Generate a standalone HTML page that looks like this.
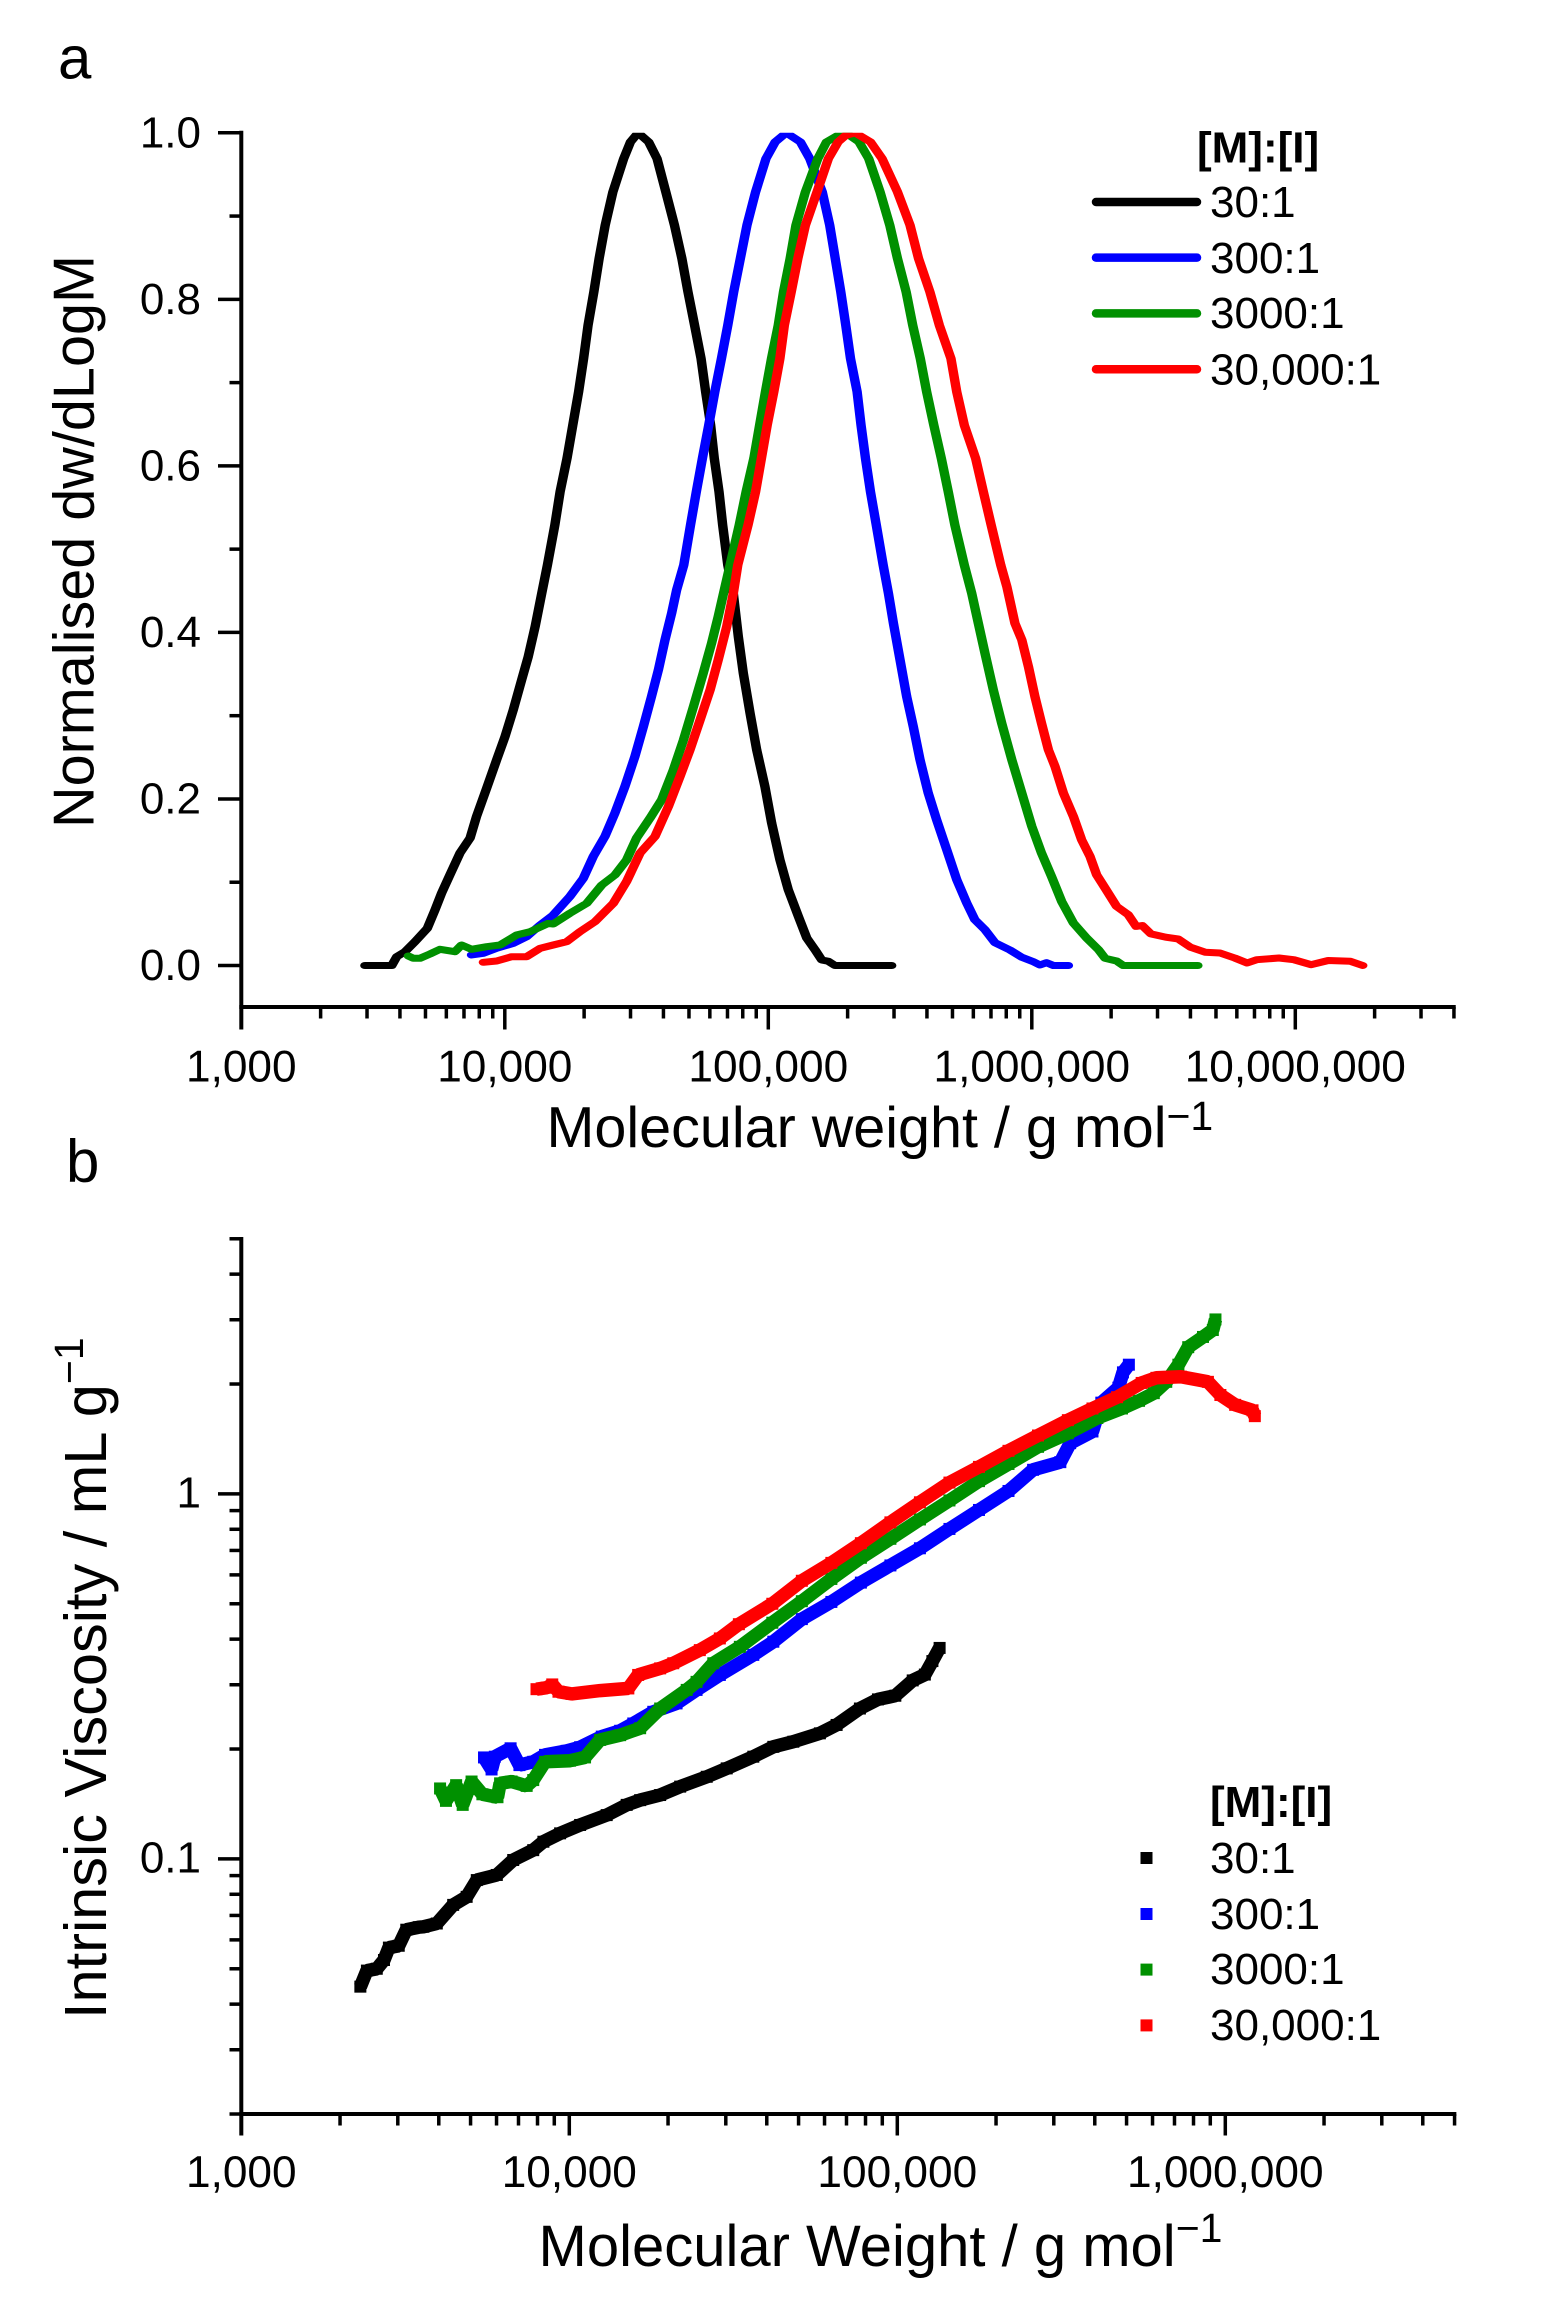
<!DOCTYPE html>
<html lang="en">
<head>
<meta charset="utf-8">
<title>Molecular weight distributions and intrinsic viscosity</title>
<style>
html,body{margin:0;padding:0;background:#fff}
svg{display:block}
text{font-family:"Liberation Sans",Arial,sans-serif;fill:#000}
</style>
</head>
<body>
<svg id="fig" xmlns="http://www.w3.org/2000/svg" width="1544" height="2320" viewBox="0 0 1544 2320">
  <defs>
    <clipPath id="clipA"><rect x="241" y="132.8" width="1215" height="875"/></clipPath>
  </defs>
  <rect width="1544" height="2320" fill="#fff"/>

  <text x="58" y="78.5" font-size="60">a</text>
  <text x="66" y="1181.5" font-size="60">b</text>

  <g id="panelA"></g>
  <g id="panelB"></g>

  <text transform="translate(93.5 828) rotate(-90)" font-size="57.6">Normalised dw/dLogM</text>
  <text x="546.5" y="1147" font-size="57.5">Molecular weight / g mol<tspan font-size="41" dy="-17">−1</tspan></text>
  <text transform="translate(105.9 2019) rotate(-90)" font-size="59.5">Intrinsic Viscosity / mL g<tspan font-size="41" dy="-23">−1</tspan></text>
  <text x="538.5" y="2266" font-size="58">Molecular Weight / g mol<tspan font-size="41" dy="-24">−1</tspan></text>

  <g>
    <text x="1197" y="162.5" font-size="44" font-weight="bold">[M]:[I]</text>
    <text x="1210" y="217" font-size="44">30:1</text>
    <text x="1210" y="273" font-size="44">300:1</text>
    <text x="1210" y="328" font-size="44">3000:1</text>
    <text x="1210" y="384.5" font-size="44">30,000:1</text>
    <line x1="1096" x2="1197" y1="202" y2="202" stroke="#000" stroke-width="8.5" stroke-linecap="round"/>
    <line x1="1096" x2="1197" y1="257.6" y2="257.6" stroke="#0000ff" stroke-width="8.5" stroke-linecap="round"/>
    <line x1="1096" x2="1197" y1="313.4" y2="313.4" stroke="#009000" stroke-width="8.5" stroke-linecap="round"/>
    <line x1="1096" x2="1197" y1="369.3" y2="369.3" stroke="#ff0000" stroke-width="8.5" stroke-linecap="round"/>
  </g>

  <g>
    <text x="1210" y="1817" font-size="44" font-weight="bold">[M]:[I]</text>
    <text x="1210" y="1873" font-size="44">30:1</text>
    <text x="1210" y="1929" font-size="44">300:1</text>
    <text x="1210" y="1984" font-size="44">3000:1</text>
    <text x="1210" y="2040" font-size="44">30,000:1</text>
    <rect x="1140.5" y="1852" width="12" height="12" fill="#000"/>
    <rect x="1140.5" y="1908" width="12" height="12" fill="#0000ff"/>
    <rect x="1140.5" y="1963.6" width="12" height="12" fill="#009000"/>
    <rect x="1140.5" y="2019.4" width="12" height="12" fill="#ff0000"/>
  </g>
</svg>

<script>
// ---- Panel a: log10(molecular weight) and normalised dw/dLogM ----
const aBlackLogM = [3.469,3.571,3.590,3.621,3.659,3.706,3.735,3.760,3.792,3.830,3.868,3.893,3.931,3.969,4.001,4.032,4.064,4.089,4.115,4.140,4.162,4.190,4.210,4.236,4.258,4.280,4.299,4.316,4.338,4.358,4.381,4.410,4.451,4.477,4.506,4.546,4.578,4.611,4.644,4.672,4.695,4.720,4.745,4.762,4.781,4.795,4.813,4.827,4.846,4.867,4.886,4.905,4.931,4.956,4.987,5.013,5.044,5.076,5.114,5.146,5.177,5.203,5.228,5.253,5.468];
const aBlackVal = [0,0,.0106,.0166,.0286,.0446,.0666,.087,.109,.135,.153,.179,.213,.247,.275,.307,.343,.371,.407,.447,.481,.529,.569,.609,.649,.689,.729,.769,.809,.849,.889,.929,.969,.989,1.0,.989,.969,.929,.889,.849,.809,.769,.729,.689,.649,.609,.569,.529,.481,.447,.395,.351,.303,.259,.215,.171,.127,.091,.059,.033,.019,.0066,.005,0,0];

const aBlueLogM = [3.874,3.919,3.969,4.032,4.083,4.134,4.184,4.247,4.298,4.336,4.380,4.418,4.456,4.494,4.526,4.557,4.583,4.608,4.633,4.652,4.679,4.705,4.727,4.750,4.774,4.797,4.822,4.846,4.869,4.894,4.919,4.952,4.991,5.026,5.068,5.122,5.157,5.205,5.233,5.254,5.275,5.294,5.312,5.337,5.352,5.369,5.388,5.410,5.436,5.456,5.475,5.500,5.525,5.550,5.576,5.607,5.639,5.677,5.715,5.753,5.784,5.822,5.860,5.917,5.962,6.006,6.031,6.056,6.082,6.139];
const aBlueVal = [.0126,.0146,.0206,.0266,.0346,.0486,.0606,.0827,.1047,.131,.155,.183,.215,.251,.287,.323,.355,.391,.423,.451,.481,.529,.569,.609,.649,.689,.729,.769,.809,.849,.889,.929,.969,.989,1.0,.989,.969,.929,.889,.849,.809,.769,.729,.689,.649,.609,.569,.529,.481,.447,.411,.367,.323,.287,.247,.207,.175,.139,.103,.075,.055,.043,.0274,.0186,.0098,.0046,.0006,.0034,0,0];

const aGreenLogM = [3.634,3.653,3.678,3.716,3.754,3.811,3.836,3.874,3.931,3.982,4.045,4.096,4.165,4.184,4.247,4.311,4.368,4.418,4.462,4.500,4.551,4.595,4.640,4.678,4.716,4.753,4.785,4.810,4.836,4.855,4.890,4.916,4.945,4.967,4.989,5.012,5.038,5.058,5.083,5.105,5.141,5.188,5.221,5.265,5.294,5.344,5.381,5.424,5.461,5.490,5.523,5.548,5.577,5.601,5.628,5.657,5.683,5.708,5.744,5.772,5.797,5.822,5.854,5.886,5.924,5.962,6.000,6.037,6.075,6.113,6.158,6.208,6.253,6.278,6.322,6.347,6.630];
const aGreenVal = [.0114,.0086,.0086,.0138,.0194,.0166,.0246,.0194,.0226,.0246,.0366,.0406,.0506,.0498,.0627,.0747,.0967,.1087,.1267,.153,.177,.199,.235,.271,.311,.351,.387,.419,.455,.481,.529,.569,.609,.649,.689,.729,.769,.809,.849,.889,.929,.969,.989,.997,1.0,.989,.969,.929,.889,.849,.809,.769,.729,.689,.649,.609,.569,.529,.481,.447,.411,.375,.331,.291,.247,.207,.167,.135,.107,.077,.051,.033,.019,.0086,.0054,0,0];

const aRedLogM = [3.919,3.969,4.026,4.083,4.134,4.184,4.235,4.285,4.342,4.412,4.462,4.513,4.570,4.621,4.665,4.703,4.741,4.779,4.810,4.842,4.867,4.884,4.923,4.952,4.974,4.996,5.021,5.044,5.061,5.087,5.112,5.141,5.185,5.228,5.265,5.294,5.330,5.388,5.432,5.490,5.538,5.570,5.613,5.649,5.693,5.715,5.744,5.787,5.816,5.846,5.882,5.905,5.936,5.962,5.987,6.012,6.037,6.063,6.088,6.120,6.158,6.189,6.221,6.246,6.278,6.322,6.366,6.396,6.419,6.452,6.508,6.555,6.602,6.658,6.714,6.770,6.817,6.854,6.938,6.994,7.060,7.125,7.209,7.256];
const aRedVal = [.0038,.0054,.0106,.0106,.0206,.0246,.0286,.0406,.0526,.0747,.1007,.135,.155,.191,.227,.259,.295,.331,.367,.407,.447,.481,.529,.569,.609,.649,.689,.729,.769,.809,.849,.889,.929,.969,.989,.997,1.0,.989,.969,.929,.889,.849,.809,.769,.729,.689,.649,.609,.569,.529,.481,.455,.411,.391,.359,.323,.291,.259,.239,.207,.179,.151,.131,.109,.093,.071,.061,.047,.048,.038,.034,.032,.022,.016,.015,.009,.003,.007,.009,.007,.001,.006,.005,0];

// ---- Panel b: log10(molecular weight) and log10(intrinsic viscosity) ----
const bBlackLogM = [3.363,3.383,3.413,3.435,3.450,3.480,3.503,3.541,3.555,3.596,3.646,3.687,3.718,3.779,3.829,3.890,3.921,3.972,4.033,4.114,4.175,4.216,4.277,4.338,4.419,4.480,4.561,4.622,4.683,4.764,4.815,4.886,4.941,4.994,5.047,5.084,5.107,5.129];
const bBlackLogEta = [-1.350,-1.306,-1.301,-1.277,-1.243,-1.238,-1.194,-1.187,-1.186,-1.177,-1.126,-1.104,-1.058,-1.044,-1.003,-.976,-.953,-.930,-.907,-.880,-.852,-.839,-.825,-.802,-.775,-.752,-.720,-.693,-.679,-.656,-.633,-.588,-.563,-.553,-.511,-.495,-.458,-.422];

const bBlueLogM = [3.740,3.763,3.773,3.821,3.848,3.890,3.926,3.992,4.033,4.099,4.155,4.195,4.256,4.327,4.388,4.459,4.561,4.622,4.709,4.799,4.889,4.979,5.069,5.159,5.249,5.339,5.414,5.497,5.527,5.595,5.622,5.674,5.688,5.706];
const bBlueLogEta = [-.722,-.755,-.720,-.697,-.743,-.734,-.715,-.704,-.694,-.665,-.649,-.629,-.597,-.574,-.537,-.496,-.441,-.405,-.343,-.296,-.243,-.196,-.149,-.096,-.044,.008,.066,.087,.139,.171,.250,.291,.333,.354];

const bGreenLogM = [3.606,3.624,3.655,3.675,3.702,3.735,3.781,3.789,3.824,3.870,3.890,3.926,4.002,4.048,4.094,4.155,4.216,4.277,4.358,4.388,4.439,4.520,4.619,4.709,4.799,4.889,4.979,5.069,5.159,5.249,5.339,5.429,5.520,5.610,5.685,5.737,5.782,5.820,5.857,5.887,5.932,5.962,5.970];
const bGreenLogEta = [-.807,-.841,-.798,-.852,-.788,-.823,-.831,-.793,-.788,-.800,-.784,-.734,-.731,-.722,-.674,-.661,-.642,-.588,-.537,-.515,-.464,-.419,-.353,-.294,-.233,-.175,-.123,-.070,-.018,.035,.082,.129,.166,.208,.234,.255,.276,.307,.354,.402,.430,.449,.478];

const bRedLogM = [3.900,3.931,3.948,3.967,4.007,4.094,4.180,4.210,4.277,4.317,4.398,4.459,4.517,4.619,4.709,4.799,4.889,4.979,5.069,5.159,5.249,5.339,5.429,5.520,5.595,5.670,5.745,5.790,5.865,5.947,5.985,6.030,6.083,6.090];
const bRedLogEta = [-.535,-.531,-.522,-.542,-.548,-.539,-.533,-.496,-.478,-.464,-.428,-.396,-.357,-.301,-.238,-.189,-.135,-.078,-.023,.031,.074,.118,.160,.202,.234,.265,.304,.318,.321,.307,.271,.244,.229,.213];

// ---- Tick values and labels ----
const aYMajorTicks = [0,.2,.4,.6,.8,1];
const aYMinorTicks = [.1,.3,.5,.7,.9];
const aYTickLabels = ["0.0","0.2","0.4","0.6","0.8","1.0"];
const aXMajorTicks = [1e3,1e4,1e5,1e6,1e7];
const aXTickLabels = ["1,000","10,000","100,000","1,000,000","10,000,000"];
const aXMax = 4e7;
const bYMajorTicks = [.1,1];
const bYTickLabels = ["0.1","1"];
const bYMin = .02;
const bYMax = 5;
const bXMajorTicks = [1e3,1e4,1e5,1e6];
const bXTickLabels = ["1,000","10,000","100,000","1,000,000"];
const bXMax = 5e6;

const blackColor = "#000000";
const blueColor = "#0000ff";
const greenColor = "#009000";
const redColor = "#ff0000";
const NS = "http://www.w3.org/2000/svg";

function make(parent, tag, attrs) {
  const n = document.createElementNS(NS, tag);
  for (const k in attrs) n.setAttribute(k, attrs[k]);
  parent.appendChild(n);
  return n;
}

// Axis functions
function axX(logM) { return 241.3 + 263.5 * (logM - 3); }
function ayY(v) { return 965.5 - 832.7 * v; }
function bxX(logM) { return 241.3 + 328 * (logM - 3); }
function byY(logEta) { return 1493.9 - 365 * logEta; }

function minorDecadeTicks(start, max) {
  const out = [];
  for (let d = start; d <= max; d *= 10) {
    for (let m = 2; m <= 9; m++) {
      if (d * m <= max * 1.0001) out.push(d * m);
    }
  }
  return out;
}

const panelA = document.getElementById("panelA");
const panelB = document.getElementById("panelB");

// ---- Panel a axes ----
const aYAxis = make(panelA, "line", {x1:241.3,x2:241.3,y1:130.8,y2:1029.5,stroke:"#000","stroke-width":4});


const aXAxis = make(panelA, "line", {x1:239.3,x2:axX(Math.log10(aXMax))+1.8,y1:1007,y2:1007,stroke:"#000","stroke-width":4});



aYMajorTicks.forEach(function (v, i) {
  const t = make(panelA, "line", {x1:218,x2:241.3,y1:ayY(v),y2:ayY(v),stroke:"#000","stroke-width":3.5});
  
  
  const l = make(panelA, "text", {x:201,y:ayY(v)+14.5,"font-size":44,"text-anchor":"end"});
  l.textContent = aYTickLabels[i];
  
  
});
aYMinorTicks.forEach(function (v) {
  const t = make(panelA, "line", {x1:229.5,x2:241.3,y1:ayY(v),y2:ayY(v),stroke:"#000","stroke-width":3.5});
  
  
});
aXMajorTicks.forEach(function (m, i) {
  const x = axX(Math.log10(m));
  const t = make(panelA, "line", {x1:x,x2:x,y1:1007,y2:1029.5,stroke:"#000","stroke-width":3.5});
  
  
  const l = make(panelA, "text", {x:x,y:1081.5,"font-size":44.2,"text-anchor":"middle"});
  l.textContent = aXTickLabels[i];
  
  
});
minorDecadeTicks(1e3, aXMax).forEach(function (m) {
  const x = axX(Math.log10(m));
  const t = make(panelA, "line", {x1:x,x2:x,y1:1007,y2:1018.5,stroke:"#000","stroke-width":3.5});
  
  
});

// ---- Panel a curves (pen is wider horizontally than vertically, as in the source figure) ----
const penStretch = 1.35;
function aPoints(xs, ys) {
  return xs.map(function (x, i) { return (axX(x) / penStretch).toFixed(1) + "," + ayY(ys[i]).toFixed(1); }).join(" ");
}
const aClip = make(panelA, "g", {"clip-path":"url(#clipA)"});


const aCurves = make(aClip, "g", {transform:"scale(" + penStretch + " 1)",fill:"none","stroke-width":7,"stroke-linejoin":"round","stroke-linecap":"round"});



const curveBlack = make(aCurves, "polyline", {points:aPoints(aBlackLogM, aBlackVal),stroke:blackColor});


const curveBlue = make(aCurves, "polyline", {points:aPoints(aBlueLogM, aBlueVal),stroke:blueColor});


const curveGreen = make(aCurves, "polyline", {points:aPoints(aGreenLogM, aGreenVal),stroke:greenColor});


const curveRed = make(aCurves, "polyline", {points:aPoints(aRedLogM, aRedVal),stroke:redColor});



// ---- Panel b axes ----
const bYAxis = make(panelB, "line", {x1:241.3,x2:241.3,y1:byY(Math.log10(bYMax))-1.8,y2:2135.5,stroke:"#000","stroke-width":4});


const bXAxis = make(panelB, "line", {x1:239.3,x2:bxX(Math.log10(bXMax))+1.8,y1:byY(Math.log10(bYMin)),y2:byY(Math.log10(bYMin)),stroke:"#000","stroke-width":4});



bYMajorTicks.forEach(function (v, i) {
  const y = byY(Math.log10(v));
  const t = make(panelB, "line", {x1:218,x2:241.3,y1:y,y2:y,stroke:"#000","stroke-width":3.5});
  
  
  const l = make(panelB, "text", {x:201,y:y+13.5,"font-size":44,"text-anchor":"end"});
  l.textContent = bYTickLabels[i];
  
  
});
minorDecadeTicks(.01, bYMax).filter(function (v) { return v >= bYMin * .999; }).forEach(function (v) {
  const y = byY(Math.log10(v));
  const t = make(panelB, "line", {x1:229.5,x2:241.3,y1:y,y2:y,stroke:"#000","stroke-width":3.5});
  
  
});
const bXAxisY = byY(Math.log10(bYMin));
bXMajorTicks.forEach(function (m, i) {
  const x = bxX(Math.log10(m));
  const t = make(panelB, "line", {x1:x,x2:x,y1:bXAxisY,y2:2135.5,stroke:"#000","stroke-width":3.5});
  
  
  const l = make(panelB, "text", {x:x,y:2187,"font-size":44.2,"text-anchor":"middle"});
  l.textContent = bXTickLabels[i];
  
  
});
minorDecadeTicks(1e3, bXMax).forEach(function (m) {
  const x = bxX(Math.log10(m));
  const t = make(panelB, "line", {x1:x,x2:x,y1:bXAxisY,y2:bXAxisY+11.5,stroke:"#000","stroke-width":3.5});
  
  
});

// ---- Panel b scatter series ----
function drawScatter(xs, ys, color, seriesName) {
  const g = make(panelB, "g", {fill:color});
  
  
  const pts = xs.map(function (x, i) { return bxX(x).toFixed(1) + "," + byY(ys[i]).toFixed(1); }).join(" ");
  const band = make(g, "polyline", {points:pts,fill:"none",stroke:color,"stroke-width":13.5,"stroke-linejoin":"bevel"});
  
  
  xs.forEach(function (x, i) {
    const s = make(g, "rect", {x:bxX(x)-6,y:byY(ys[i])-6,width:12,height:12});
    
    
  });
}
drawScatter(bBlackLogM, bBlackLogEta, blackColor, "series-30-to-1");
drawScatter(bBlueLogM, bBlueLogEta, blueColor, "series-300-to-1");
drawScatter(bGreenLogM, bGreenLogEta, greenColor, "series-3000-to-1");
drawScatter(bRedLogM, bRedLogEta, redColor, "series-30000-to-1");
</script>
</body>
</html>
